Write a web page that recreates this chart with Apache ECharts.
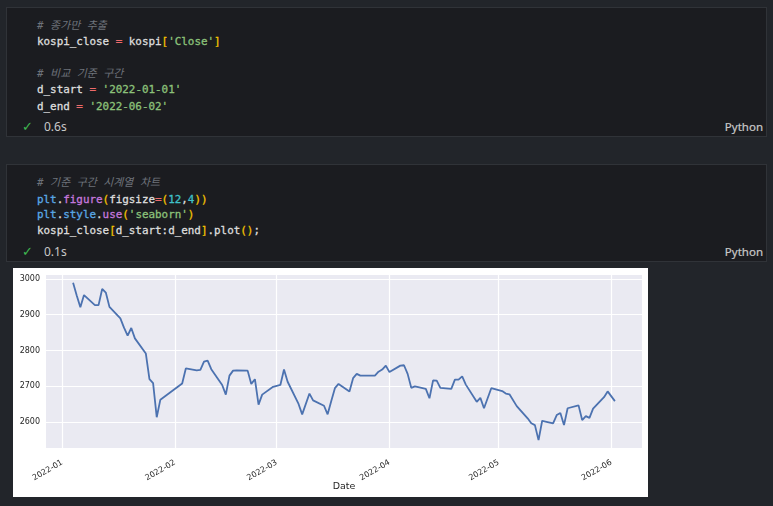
<!DOCTYPE html>
<html>
<head>
<meta charset="utf-8">
<script src="https://cdn.jsdelivr.net/npm/echarts@6/dist/echarts.min.js"></script>
<style>
  html, body { margin:0; padding:0; width:773px; height:506px; overflow:hidden; background:#22252a; }
  .cell { position:absolute; left:6px; width:761px; background:#1b1c20; border:1px solid #303338; box-sizing:border-box; }
  .ln { position:absolute; left:37px; height:16px; line-height:16px; white-space:pre; font-family:"DejaVu Sans Mono", monospace; font-size:10.9px; color:#dedede; -webkit-text-stroke:0.3px currentColor; }
  .cm { color:#6e737b; font-style:italic; font-family:"DejaVu Sans Mono","Noto Sans CJK KR", monospace; -webkit-text-stroke:0; }
  .op { color:#ee6a6a; }
  .st { color:#8cc27a; }
  .br { color:#f2c200; }
  .nu { color:#3fc1c9; }
  .fn { color:#c678dd; }
  .md { color:#5aa8e6; }
  .status { position:absolute; height:16px; line-height:16px; font-family:"Noto Sans", sans-serif; font-size:12px; color:#c8c8c8; }
  .check { position:absolute; color:#3fb950; font-family:"DejaVu Sans", sans-serif; font-size:13px; height:16px; line-height:16px; }
  .lang { position:absolute; right:3px; height:16px; line-height:16px; font-family:"Noto Sans", sans-serif; font-size:11.5px; color:#c8c8c8; -webkit-text-stroke:0.2px currentColor; }
  #chart { position:absolute; left:13px; top:268px; width:635px; height:229px; background:#ffffff; }
</style>
</head>
<body>
<div class="cell" style="top:7px;height:130px;">
  <div class="ln" style="top:10px;left:30px;"><span class="cm"># 종가만 추출</span></div>
  <div class="ln" style="top:26px;left:30px;">kospi_close <span class="op">=</span> kospi<span class="br">[</span><span class="st">'Close'</span><span class="br">]</span></div>
  <div class="ln" style="top:58px;left:30px;"><span class="cm"># 비교 기준 구간</span></div>
  <div class="ln" style="top:74px;left:30px;">d_start <span class="op">=</span> <span class="st">'2022-01-01'</span></div>
  <div class="ln" style="top:91px;left:30px;">d_end <span class="op">=</span> <span class="st">'2022-06-02'</span></div>
  <div class="check" style="top:111px;left:15px;">✓</div>
  <div class="status" style="top:111px;left:37px;">0.6s</div>
  <div class="lang" style="top:111px;">Python</div>
</div>
<div class="cell" style="top:164px;height:98px;">
  <div class="ln" style="top:10px;left:30px;"><span class="cm"># 기준 구간 시계열 차트</span></div>
  <div class="ln" style="top:27px;left:30px;"><span class="md">plt</span>.<span class="fn">figure</span><span class="br">(</span>figsize<span class="op">=</span><span class="br">(</span><span class="nu">12</span>,<span class="nu">4</span><span class="br">))</span></div>
  <div class="ln" style="top:42px;left:30px;"><span class="md">plt</span>.<span class="md">style</span>.<span class="fn">use</span><span class="br">(</span><span class="st">'seaborn'</span><span class="br">)</span></div>
  <div class="ln" style="top:58px;left:30px;">kospi_close<span class="br">[</span>d_start:d_end<span class="br">]</span>.plot<span class="br">()</span>;</div>
  <div class="check" style="top:79px;left:15px;">✓</div>
  <div class="status" style="top:79px;left:37px;">0.1s</div>
  <div class="lang" style="top:79px;">Python</div>
</div>
<div id="chart"></div>
<script>
const dates = [
  '2022-01-04','2022-01-05','2022-01-06','2022-01-07','2022-01-10','2022-01-11','2022-01-12','2022-01-13','2022-01-14',
  '2022-01-17','2022-01-18','2022-01-19','2022-01-20','2022-01-21','2022-01-24','2022-01-25','2022-01-26','2022-01-27','2022-01-28',
  '2022-02-03','2022-02-04','2022-02-07','2022-02-08','2022-02-09','2022-02-10','2022-02-11','2022-02-14','2022-02-15','2022-02-16',
  '2022-02-17','2022-02-18','2022-02-21','2022-02-22','2022-02-23','2022-02-24','2022-02-25','2022-02-28',
  '2022-03-02','2022-03-03','2022-03-04','2022-03-07','2022-03-08','2022-03-10','2022-03-11','2022-03-14','2022-03-15','2022-03-16',
  '2022-03-17','2022-03-18','2022-03-21','2022-03-22','2022-03-23','2022-03-24','2022-03-25','2022-03-28','2022-03-29','2022-03-30','2022-03-31',
  '2022-04-01','2022-04-04','2022-04-05','2022-04-06','2022-04-07','2022-04-08','2022-04-11','2022-04-12','2022-04-13','2022-04-14','2022-04-15',
  '2022-04-18','2022-04-19','2022-04-20','2022-04-21','2022-04-22','2022-04-25','2022-04-26','2022-04-27','2022-04-28','2022-04-29',
  '2022-05-02','2022-05-03','2022-05-04','2022-05-06','2022-05-09','2022-05-10','2022-05-11','2022-05-12','2022-05-13',
  '2022-05-16','2022-05-17','2022-05-18','2022-05-19','2022-05-20','2022-05-23','2022-05-24','2022-05-25','2022-05-26','2022-05-27',
  '2022-05-30','2022-05-31','2022-06-02'
];
const closes = [
  2989, 2954, 2921, 2955, 2927, 2927, 2972, 2962, 2922,
  2890, 2864, 2842, 2863, 2834, 2792, 2720, 2709, 2614, 2663,
  2708, 2750, 2745, 2746, 2769, 2772, 2748, 2704, 2677, 2730,
  2744, 2745, 2744, 2707, 2720, 2649, 2677, 2699,
  2704, 2747, 2713, 2651, 2622, 2680, 2661, 2646, 2622, 2659,
  2695, 2707, 2686, 2723, 2735, 2730, 2730, 2730, 2741, 2747, 2758,
  2740, 2758, 2759, 2735, 2696, 2700, 2693, 2667, 2717, 2716, 2696,
  2693, 2719, 2719, 2728, 2705, 2657, 2668, 2639, 2667, 2695,
  2687, 2680, 2678, 2645, 2611, 2597, 2592, 2550, 2604,
  2597, 2620, 2626, 2592, 2639, 2647, 2606, 2617, 2612, 2638,
  2670, 2686, 2659
];
const yTicks = [2600, 2700, 2800, 2900, 3000];
const xTicks = ['2022-01-01','2022-02-01','2022-03-01','2022-04-01','2022-05-01','2022-06-01'];

function ts(s) { const p = s.split('-').map(Number); return Date.UTC(p[0], p[1]-1, p[2]); }
const tsDates = dates.map(ts);
const xSpan = tsDates[tsDates.length-1] - tsDates[0];
const xMin = tsDates[0] - 0.05 * xSpan;
const xMax = tsDates[tsDates.length-1] + 0.05 * xSpan;
const yLo = Math.min(...closes), yHi = Math.max(...closes);
const yMin = yLo - 0.05 * (yHi - yLo);
const yMax = yHi + 0.05 * (yHi - yLo);

const chart = echarts.init(document.getElementById('chart'), null, { renderer: 'canvas' });
chart.setOption({
  animation: false,
  backgroundColor: '#ffffff',
  grid: { left: 33, right: 6, top: 7, bottom: 49, show: true, backgroundColor: '#EAEAF2', borderWidth: 0,
          containLabel: false, outerBoundsMode: 'none' },
  xAxis: {
    type: 'value', min: xMin, max: xMax,
    name: 'Date', nameLocation: 'middle', nameGap: 34, nameMoveOverlap: false,
    nameTextStyle: { fontFamily: 'DejaVu Sans', fontSize: 9.5, color: '#262626' },
    axisLine: { show: false },
    axisTick: { show: false, customValues: xTicks.map(ts) },
    axisLabel: {
      customValues: xTicks.map(ts), rotate: 30, margin: 14,
      fontFamily: 'DejaVu Sans', fontSize: 8, color: '#262626',
      formatter: function (v) { const d = new Date(v); return d.getUTCFullYear() + '-' + String(d.getUTCMonth()+1).padStart(2,'0'); }
    },
    splitLine: { show: true, lineStyle: { color: '#ffffff', width: 1.2 } }
  },
  yAxis: {
    type: 'value', min: yMin, max: yMax,
    axisLine: { show: false },
    axisTick: { show: false, customValues: yTicks },
    axisLabel: { customValues: yTicks, margin: 6, fontFamily: 'DejaVu Sans', fontSize: 8, color: '#262626',
      formatter: function (v) { return String(v); } },
    splitLine: { show: true, lineStyle: { color: '#ffffff', width: 1.2 } }
  },
  series: [{
    type: 'line', showSymbol: false, symbol: 'none',
    data: tsDates.map((t, i) => [t, closes[i]]),
    lineStyle: { color: '#4C72B0', width: 1.8 },
    itemStyle: { color: '#4C72B0' }
  }]
});
</script>
</body>
</html>
